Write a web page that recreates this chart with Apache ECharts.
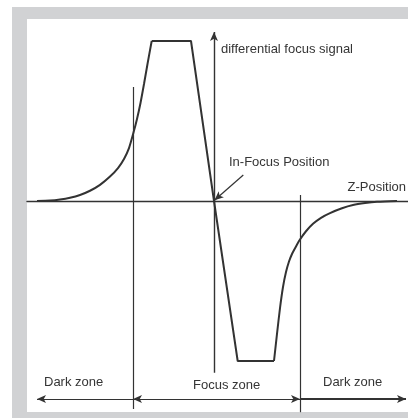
<!DOCTYPE html>
<html>
<head>
<meta charset="utf-8">
<script src="https://cdn.jsdelivr.net/npm/echarts@6/dist/echarts.min.js"></script>
<style>
  html, body { margin: 0; padding: 0; background: #ffffff; }
  #wrap { position: relative; width: 408px; height: 418px; }
  #frame { position: absolute; left: 12px; top: 7px; width: 396px; height: 411px; background: #d1d2d4; }
  #inner { position: absolute; left: 27px; top: 19px; width: 381px; height: 393px; background: #ffffff; }
  #chart { position: absolute; left: 0; top: 0; width: 408px; height: 418px; }
</style>
</head>
<body>
<div id="wrap">
  <div id="frame"></div>
  <div id="inner"></div>
  <div id="chart"></div>
</div>
<script>
// Z-position (arbitrary units) and differential focus signal (normalised)
const leftTailZ  = [-17.7, -16.4, -15.4, -14.4, -13.4, -12.4, -11.4, -10.4, -9.6, -9.0, -8.5, -8.07, -7.7, -7.35, -7.0, -6.65, -6.23];
const leftTailS  = [0, 0.0025, 0.009, 0.02, 0.0375, 0.064, 0.101, 0.153, 0.206, 0.263, 0.331, 0.423, 0.5125, 0.6125, 0.731, 0.856, 1.0];
const coreZ      = [-6.23, -2.3, 0, 2.37, 6.0];
const coreS      = [1, 1, 0, -1, -1];
const rightTailZ = [6.0, 6.3, 6.6, 6.9, 7.2, 7.5, 7.8, 8.2, 8.6, 9.2, 9.9, 10.7, 11.6, 12.8, 13.9, 15.1, 16.3, 18.3];
const rightTailS = [-1, -0.831, -0.669, -0.5375, -0.444, -0.378, -0.331, -0.284, -0.241, -0.189, -0.1425, -0.105, -0.0756, -0.0456, -0.0256, -0.0131, -0.005, 0];

// zone boundaries (z) and extents
const zoneEdgesZ = [-17.7, -8.1, 8.6, 19.2];
const zoneArrowS = -1.2375;
const dividerTopS = [0.7125, 0.0375];
const dividerBottomS = [-1.3, -1.32];
const signalAxisS = [-1.073, 1.056];
const pointerFrom = [2.93, 0.1625];
const pointerTo = [0.05, 0.005];

const labels = ['differential focus signal', 'In-Focus Position', 'Z-Position', 'Dark zone', 'Focus zone', 'Dark zone'];

const zip = (a, b) => a.map((v, i) => [v, b[i]]);
const ink = '#333333';
const font = '13px "Liberation Sans", Arial, sans-serif';
const txt = '#353535';

const seg = (a, b, s0, s1, w, c) => [
  { coord: a, symbol: s0 },
  { coord: b, symbol: s1, lineStyle: { width: w || 1.3, color: c || ink } }
];

const chart = echarts.init(document.getElementById('chart'), null, { renderer: 'canvas' });
chart.setOption({
  backgroundColor: 'transparent',
  animation: false,
  grid: { left: 27, right: 0, top: 25, height: 387.2, containLabel: false },
  xAxis: {
    type: 'value', min: -18.7, max: 19.4,
    axisLine: { show: true, onZero: true, lineStyle: { color: ink, width: 1.4 } },
    axisTick: { show: false }, axisLabel: { show: false }, splitLine: { show: false }
  },
  yAxis: {
    type: 'value', min: -1.32, max: 1.1, show: false,
    splitLine: { show: false }
  },
  series: [
    {
      type: 'line', data: zip(leftTailZ, leftTailS), smooth: 0.25,
      symbol: 'none', lineStyle: { color: ink, width: 2 }, silent: true
    },
    {
      type: 'line', data: zip(coreZ, coreS), smooth: false,
      symbol: 'none', lineStyle: { color: ink, width: 2 }, silent: true
    },
    {
      type: 'line', data: zip(rightTailZ, rightTailS), smooth: 0.25,
      symbol: 'none', lineStyle: { color: ink, width: 2 }, silent: true,
      markLine: {
        silent: true,
        symbolSize: [6, 9],
        label: { show: false },
        lineStyle: { type: 'solid', color: ink, width: 1.3 },
        data: [
          seg([0, signalAxisS[0]], [0, signalAxisS[1]], 'none', 'arrow', 1.4),
          seg([zoneEdgesZ[1], dividerBottomS[0]], [zoneEdgesZ[1], dividerTopS[0]], 'none', 'none', 1.2),
          seg([zoneEdgesZ[2], dividerBottomS[1]], [zoneEdgesZ[2], dividerTopS[1]], 'none', 'none', 1.2),
          seg([zoneEdgesZ[1], zoneArrowS], [zoneEdgesZ[0], zoneArrowS], 'none', 'arrow', 1.2),
          seg([zoneEdgesZ[1], zoneArrowS], [zoneEdgesZ[2], zoneArrowS], 'arrow', 'arrow', 1.2),
          seg([zoneEdgesZ[2], zoneArrowS], [zoneEdgesZ[3], zoneArrowS], 'none', 'arrow', 2),
          seg(pointerFrom, pointerTo, 'none', 'arrow', 1.2)
        ]
      }
    }
  ],
  graphic: [
    { type: 'text', left: 221, top: 43, style: { text: labels[0], font: font, fill: txt } },
    { type: 'text', left: 229, top: 156, style: { text: labels[1], font: font, fill: txt } },
    { type: 'text', right: 2, top: 181, style: { text: labels[2], font: font, fill: txt } },
    { type: 'text', left: 44, top: 376, style: { text: labels[3], font: font, fill: txt } },
    { type: 'text', left: 193, top: 379, style: { text: labels[4], font: font, fill: txt } },
    { type: 'text', left: 323, top: 376, style: { text: labels[5], font: font, fill: txt } }
  ]
});
</script>
</body>
</html>
